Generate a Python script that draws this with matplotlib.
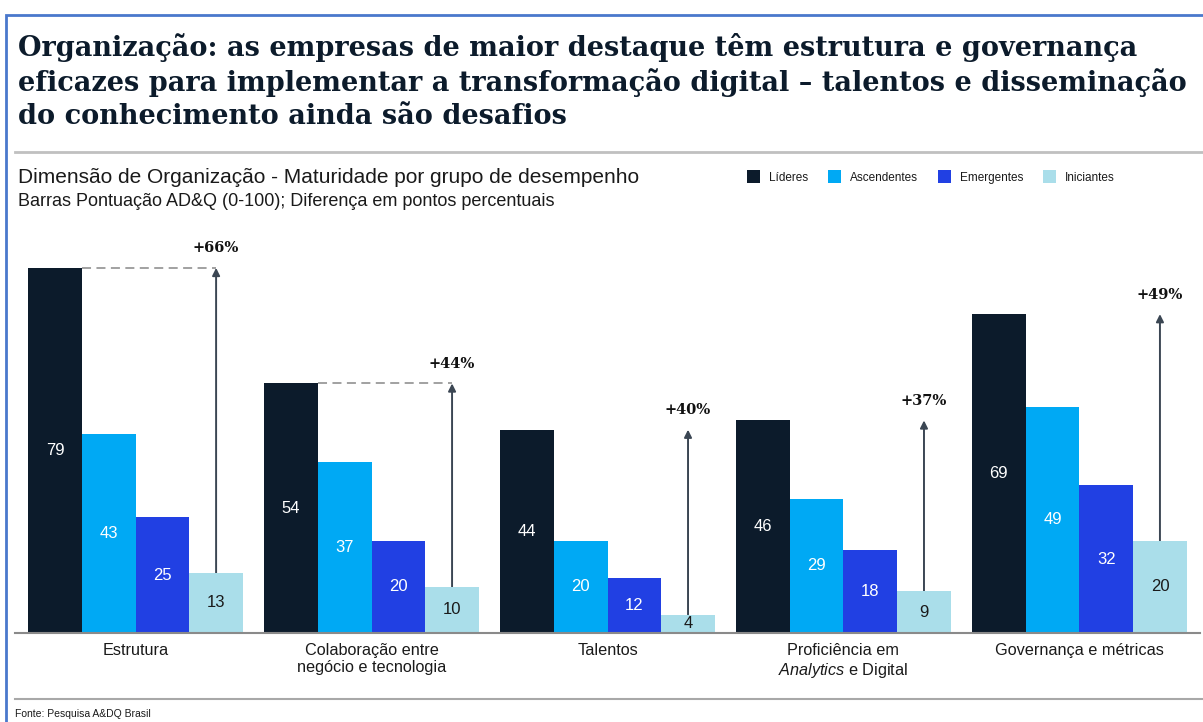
import matplotlib
matplotlib.use("Agg")
import matplotlib.pyplot as plt
from matplotlib.patches import Rectangle
from matplotlib.lines import Line2D
import numpy as np

plt.rcParams['font.family'] = ['Liberation Sans', 'DejaVu Sans']
plt.rcParams['mathtext.fontset'] = 'custom'
plt.rcParams['mathtext.rm'] = 'Liberation Sans'
plt.rcParams['mathtext.it'] = 'Liberation Sans:italic'

# ---- data ----
categories = ["Estrutura", "Colaboração entre\nnegócio e tecnologia", "Talentos",
              "Proficiência em\n$\\it{Analytics}$ e Digital", "Governança e métricas"]
series_names = ["Líderes", "Ascendentes", "Emergentes", "Iniciantes"]
lideres = [79, 54, 44, 46, 69]
ascendentes = [43, 37, 20, 29, 49]
emergentes = [25, 20, 12, 18, 32]
iniciantes = [13, 10, 4, 9, 20]
diffs = ["+66%", "+44%", "+40%", "+37%", "+49%"]
dashed = [True, True, False, False, False]

colors = ["#0c1b2b", "#00a9f4", "#2140e3", "#aadeea"]
text_colors = ["white", "white", "white", "#1a1a1a"]

W, H = 1203, 722
fig = plt.figure(figsize=(W / 100, H / 100), dpi=100)

def fx(px):
    return px / W

def fy(py):
    return 1 - py / H

# axes: x 15..1200 px, y 230..633 px
ax = fig.add_axes([fx(15), fy(633), fx(1200) - fx(15), fy(230) - fy(633)])
ax.set_xlim(-0.511, 4.511)
ax.set_ylim(0, 87.2)

bw = 0.2275
data = [lideres, ascendentes, emergentes, iniciantes]
x = np.arange(len(categories))
for j, (vals, c, tc) in enumerate(zip(data, colors, text_colors)):
    xs = x + (j - 1.5) * bw
    ax.bar(xs, vals, width=bw, color=c, edgecolor='none', zorder=2)
    for xi, v in zip(xs, vals):
        ax.text(xi, v / 2, str(v), ha='center', va='center', color=tc,
                fontsize=12, zorder=3)

for i in range(len(categories)):
    xa = x[i] + 1.5 * bw
    top = lideres[i]
    if dashed[i]:
        ax.plot([x[i] - 1.0 * bw, xa], [top, top], color='#9a9a9a', lw=1.3,
                ls=(0, (5, 3)), zorder=1)
    ax.annotate('', xy=(xa, top), xytext=(xa, iniciantes[i]),
                arrowprops=dict(arrowstyle='-|>', color='#3b4653', lw=1.4,
                                mutation_scale=11, shrinkA=0, shrinkB=0),
                zorder=1)
    ax.annotate(diffs[i], xy=(xa, top), xytext=(0, 9), textcoords='offset points',
                ha='center', va='bottom', fontsize=10.5, fontweight='bold',
                family='DejaVu Serif', color='#111111')

ax.set_xticks(x)
ax.set_xticklabels(categories, fontsize=11.7, color='#1a1a1a', linespacing=1.2)
ax.tick_params(axis='x', length=0, pad=7)
ax.set_yticks([])
for s in ['top', 'right', 'left']:
    ax.spines[s].set_visible(False)
ax.spines['bottom'].set_color('#8a8a8a')
ax.spines['bottom'].set_linewidth(1.5)
ax.set_facecolor('none')

# title
fig.text(fx(18), fy(33), "Organização: as empresas de maior destaque têm estrutura e governança\n"
         "eficazes para implementar a transformação digital – talentos e disseminação\n"
         "do conhecimento ainda são desafios",
         ha='left', va='top', fontsize=19.5, fontweight='bold', family='DejaVu Serif',
         color='#0c1b2b', linespacing=1.27)

# separator lines
fig.add_artist(Line2D([fx(15), 1], [fy(152), fy(152)], color='#c0c0c0', lw=2))
fig.add_artist(Line2D([fx(15), 1], [fy(699), fy(699)], color='#a8a8a8', lw=1.5))

# subtitles
fig.text(fx(18), fy(183), "Dimensão de Organização - Maturidade por grupo de desempenho",
         ha='left', va='baseline', fontsize=15, color='#1a1a1a')
fig.text(fx(18), fy(206), "Barras Pontuação AD&Q (0-100); Diferença em pontos percentuais",
         ha='left', va='baseline', fontsize=13, color='#1a1a1a')

# legend
leg_x = [747, 828, 938, 1043]
for lx, name, c in zip(leg_x, series_names, colors):
    fig.add_artist(Rectangle((fx(lx), fy(183)), 13 / W, 13 / H, transform=fig.transFigure,
                             facecolor=c, edgecolor='none'))
    fig.text(fx(lx + 22), fy(181), name, ha='left', va='baseline', fontsize=8.5,
             color='#1a1a1a')

# footer
fig.text(fx(15), fy(714), "Fonte: Pesquisa A&DQ Brasil", ha='left', va='center',
         fontsize=7.5, color='#1a1a1a')

# border
fig.add_artist(Rectangle((fx(6), -0.01), 1.02 - fx(6), fy(15) + 0.01, transform=fig.transFigure,
                         facecolor='none', edgecolor='#4a78cc', lw=2))

fig.savefig("out.png", dpi=100)
